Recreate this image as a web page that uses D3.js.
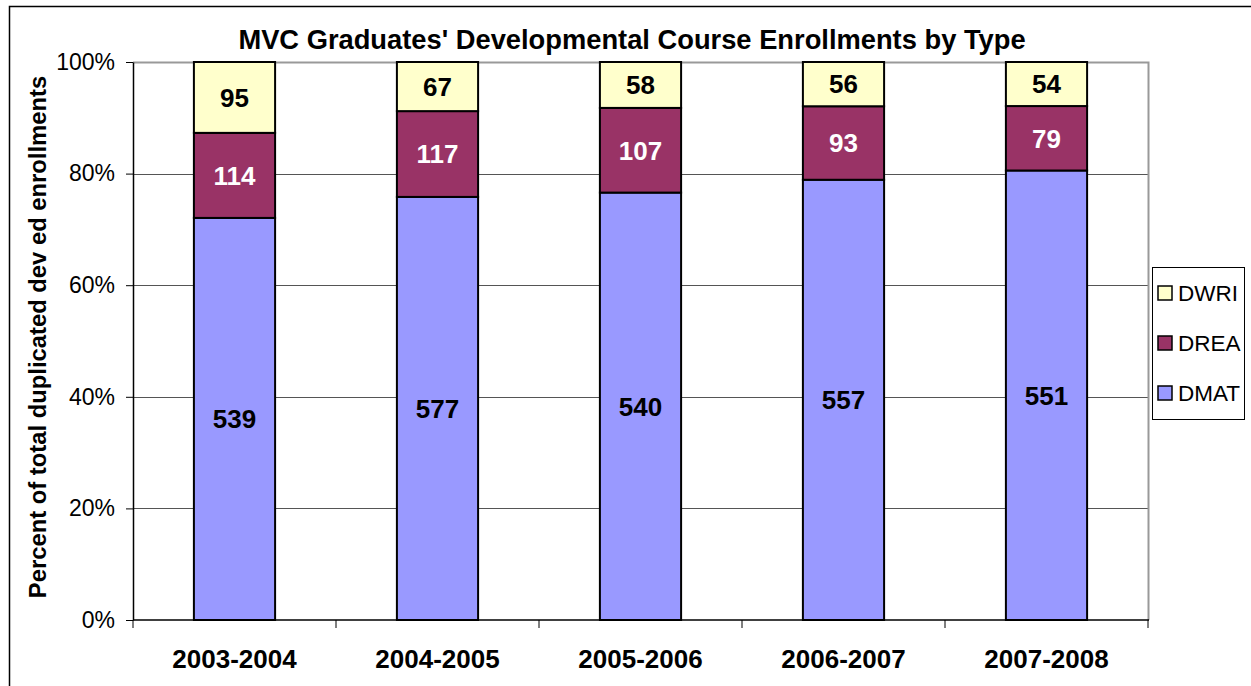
<!doctype html>
<html lang="en">
<head>
<meta charset="utf-8">
<title>MVC Graduates' Developmental Course Enrollments by Type</title>
<script src="https://cdn.jsdelivr.net/npm/d3@7"></script>
<style>
  body { margin: 0; background: #fff; }
  svg { display: block; font-family: "Liberation Sans", Arial, sans-serif; }
</style>
</head>
<body>
<script>
var years = ["2003-2004", "2004-2005", "2005-2006", "2006-2007", "2007-2008"];
var seriesNames = ["DMAT", "DREA", "DWRI"];
var dmat = [539, 577, 540, 557, 551];
var drea = [114, 117, 107, 93, 79];
var dwri = [95, 67, 58, 56, 54];
var yTicks = [0, 0.2, 0.4, 0.6, 0.8, 1];

var colors = {DMAT: "#9999ff", DREA: "#993366", DWRI: "#ffffcc"};
var labelColors = {DMAT: "#000", DREA: "#fff", DWRI: "#000"};

var W = 1251, H = 686;
var plot = {left: 133, top: 62, right: 1148, bottom: 620};

var rows = years.map((y, i) => ({year: y, DMAT: dmat[i], DREA: drea[i], DWRI: dwri[i]}));
var stacked = d3.stack().keys(seriesNames).offset(d3.stackOffsetExpand)(rows);

var svg = d3.select("body").append("svg")
    .attr("width", W).attr("height", H);

// outer chart border
svg.append("rect")
    .attr("x", 9.5).attr("y", 6.5)
    .attr("width", W).attr("height", H)
    .attr("fill", "none").attr("stroke", "#000").attr("stroke-width", 1.5);

var x = d3.scaleBand()
    .domain(years)
    .range([plot.left, plot.right])
    .paddingInner(0.6).paddingOuter(0.3);

var y = d3.scaleLinear()
    .domain([0, 1])
    .range([plot.bottom, plot.top]);

// gridlines
svg.append("g").selectAll("line")
    .data(yTicks.slice(1, -1))
    .enter().append("line")
    .attr("x1", plot.left).attr("x2", plot.right)
    .attr("y1", d => Math.round(y(d)) + 0.5).attr("y2", d => Math.round(y(d)) + 0.5)
    .attr("stroke", "#555").attr("stroke-width", 1);

// plot area border (top/right grey)
svg.append("path")
    .attr("d", "M" + plot.left + "," + (plot.top + 0.5) + "H" + (plot.right + 0.5) + "V" + plot.bottom)
    .attr("fill", "none").attr("stroke", "#999").attr("stroke-width", 2);

// bars
var layer = svg.append("g").selectAll("g")
    .data(stacked)
    .enter().append("g")
    .attr("fill", d => colors[d.key]);

layer.selectAll("rect")
    .data(d => d.map(v => ({key: d.key, v: v})))
    .enter().append("rect")
    .attr("x", d => x(d.v.data.year))
    .attr("y", d => y(d.v[1]))
    .attr("width", x.bandwidth())
    .attr("height", d => y(d.v[0]) - y(d.v[1]))
    .attr("stroke", "#000").attr("stroke-width", 2);

layer.selectAll("text")
    .data(d => d.map(v => ({key: d.key, v: v})))
    .enter().append("text")
    .attr("x", d => x(d.v.data.year) + x.bandwidth() / 2)
    .attr("y", d => (y(d.v[0]) + y(d.v[1])) / 2)
    .attr("dy", "0.36em")
    .attr("text-anchor", "middle")
    .attr("font-size", "26px").attr("font-weight", "bold")
    .attr("fill", d => labelColors[d.key])
    .text(d => d.v.data[d.key]);

// y axis
var yAxis = svg.append("g")
    .attr("transform", "translate(" + plot.left + ",0)")
    .call(d3.axisLeft(y).tickValues(yTicks).tickFormat(d3.format(".0%")).tickSize(7).tickSizeOuter(0));
yAxis.select(".domain").attr("stroke", "#000").attr("stroke-width", 1.5);
yAxis.selectAll(".tick line").attr("stroke", "#000");
yAxis.selectAll(".tick text")
    .attr("font-size", "23px").attr("font-family", "'Liberation Sans', Arial, sans-serif")
    .attr("fill", "#000").attr("x", -18);

// x axis with ticks at category boundaries
var xAxisG = svg.append("g");
xAxisG.append("line")
    .attr("x1", plot.left).attr("x2", plot.right + 1)
    .attr("y1", plot.bottom).attr("y2", plot.bottom)
    .attr("stroke", "#000").attr("stroke-width", 1.5);
var step = (plot.right - plot.left) / years.length;
xAxisG.selectAll("line.tk")
    .data(d3.range(years.length + 1))
    .enter().append("line").attr("class", "tk")
    .attr("x1", i => plot.left + i * step).attr("x2", i => plot.left + i * step)
    .attr("y1", plot.bottom).attr("y2", plot.bottom + 8)
    .attr("stroke", "#000").attr("stroke-width", 1);
xAxisG.selectAll("text")
    .data(years)
    .enter().append("text")
    .attr("x", d => x(d) + x.bandwidth() / 2)
    .attr("y", 668)
    .attr("text-anchor", "middle")
    .attr("font-size", "26px").attr("font-weight", "bold")
    .text(d => d);

// title
svg.append("text")
    .attr("x", 632).attr("y", 49)
    .attr("text-anchor", "middle")
    .attr("font-size", "27.3px").attr("font-weight", "bold")
    .text("MVC Graduates' Developmental Course Enrollments by Type");

// y axis title
svg.append("text")
    .attr("transform", "translate(46,337) rotate(-90)")
    .attr("text-anchor", "middle")
    .attr("font-size", "23.8px").attr("font-weight", "bold")
    .text("Percent of total duplicated dev ed enrollments");

// legend
var legend = svg.append("g");
legend.append("rect")
    .attr("x", 1152.5).attr("y", 267.5)
    .attr("width", 92).attr("height", 152)
    .attr("fill", "#fff").attr("stroke", "#000").attr("stroke-width", 1);
var legItems = seriesNames.slice().reverse();
var li = legend.selectAll("g.item")
    .data(legItems)
    .enter().append("g").attr("class", "item")
    .attr("transform", (d, i) => "translate(1158," + (293 + i * 50) + ")");
li.append("rect")
    .attr("x", 0).attr("y", -7)
    .attr("width", 14).attr("height", 14)
    .attr("fill", d => colors[d]).attr("stroke", "#000").attr("stroke-width", 1.5);
li.append("text")
    .attr("x", 20).attr("y", 0).attr("dy", "0.36em")
    .attr("font-size", "22.5px")
    .text(d => d);
</script>
</body>
</html>
